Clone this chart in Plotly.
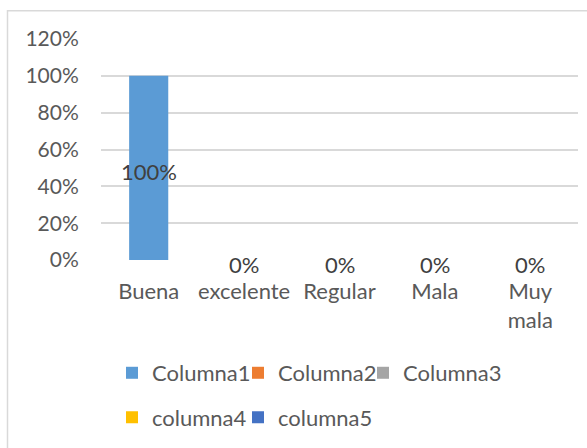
import plotly.graph_objects as go

categories = ["Buena", "excelente", "Regular", "Mala", "Muy mala"]
tick_labels = ["Buena", "excelente", "Regular", "Mala", "Muy<br>mala"]
columna1 = [1.0, 0.0, 0.0, 0.0, 0.0]
series_names = ["Columna1", "Columna2", "Columna3", "columna4", "columna5"]
series_colors = ["#5B9BD5", "#ED7D31", "#A5A5A5", "#FFC000", "#4472C4"]
y_ticks = [0, 0.2, 0.4, 0.6, 0.8, 1.0, 1.2]
y_tick_labels = ["0%", "20%", "40%", "60%", "80%", "100%", "120%"]

FONT = "Lato"
FS = 22
W, H = 587, 448
ml, mr, mt, mb = 101, 9, 39, 186
pw, ph = W - ml - mr, H - mt - mb

def px_x(x):
    return (x - ml) / pw

def px_y(y):
    return (H - mb - y) / ph

# legend slot positions (pixel x of entry start, pixel y of row centre)
legend_slots = [(112, 376), (238, 376), (363, 376), (112, 421), (238, 421)]
legend_ids = ["legend", "legend2", "legend3", "legend4", "legend5"]

fig = go.Figure()
fig.add_trace(go.Bar(
    x=categories, y=columna1, name=series_names[0],
    marker=dict(color=series_colors[0], line=dict(width=0)),
    legend=legend_ids[0], hoverinfo="skip", showlegend=True,
))
for i in range(1, 5):
    fig.add_trace(go.Bar(
        x=[None], y=[None], name=series_names[i],
        marker=dict(color=series_colors[i], line=dict(width=0)),
        legend=legend_ids[i], showlegend=True,
    ))

annotations = [
    dict(x=c, y=v / 2, xref="x", yref="y", text=f"{round(v*100)}%",
         showarrow=False, yshift=-4,
         font=dict(family=FONT, size=FS, color="#404040"))
    for c, v in zip(categories, columna1)
]

legends = {}
for lid, (lx, ly) in zip(legend_ids, legend_slots):
    legends[lid] = dict(
        orientation="h", x=px_x(lx), xanchor="left",
        y=px_y(ly), yanchor="middle",
        font=dict(family=FONT, size=FS, color="#595959"),
        bgcolor="rgba(0,0,0,0)",
    )

fig.update_layout(
    width=W, height=H,
    margin=dict(l=ml, r=mr, t=mt, b=mb),
    paper_bgcolor="white", plot_bgcolor="white",
    barmode="overlay", bargap=0.59, showlegend=True,
    font=dict(family=FONT, size=FS, color="#595959"),
    xaxis=dict(
        categoryorder="array", categoryarray=categories,
        tickmode="array", tickvals=categories, ticktext=tick_labels,
        showgrid=False, zeroline=False, showline=False,
        ticks="outside", ticklen=12, tickcolor="rgba(0,0,0,0)",
        tickfont=dict(family=FONT, size=FS, color="#595959"),
        fixedrange=True,
    ),
    yaxis=dict(
        range=[0, 1.2], tickmode="array", tickvals=y_ticks, ticktext=y_tick_labels,
        showgrid=True, gridcolor="#D9D9D9", gridwidth=1.5,
        zeroline=False, showline=False,
        ticks="outside", ticklen=17, tickcolor="rgba(0,0,0,0)",
        tickfont=dict(family=FONT, size=21, color="#595959"),
        fixedrange=True,
    ),
    annotations=annotations,
    shapes=[dict(
        type="rect", xref="paper", yref="paper",
        x0=px_x(7.5), x1=px_x(600), y0=px_y(10.5), y1=px_y(460),
        line=dict(color="#D9D9D9", width=1.5), fillcolor="rgba(0,0,0,0)",
        layer="below",
    )],
    **legends,
)

fig.write_html("out.html", config={"displayModeBar": False},
               post_script="document.body.style.margin='0';")
